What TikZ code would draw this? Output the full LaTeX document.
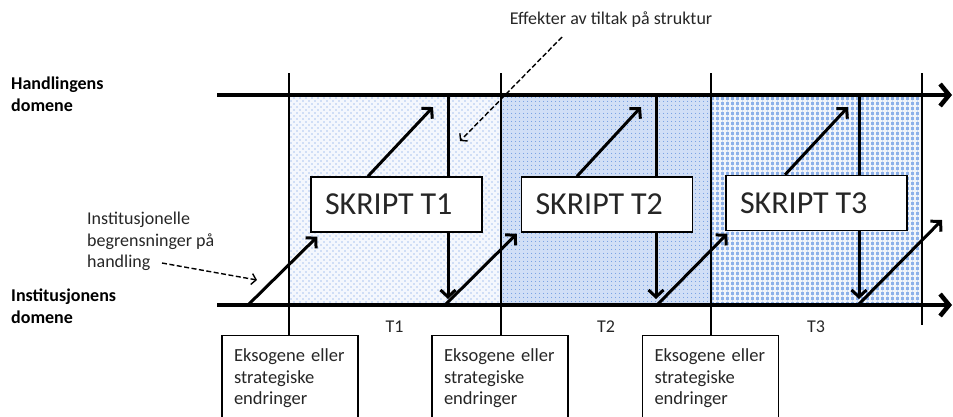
\documentclass[tikz,border=0pt]{standalone}
\usepackage{fontspec}
\setmainfont{Carlito}
\usetikzlibrary{arrows.meta,patterns.meta}
\definecolor{wordblue}{HTML}{4472C4}
\definecolor{dotblue}{HTML}{5B8EE0}
\definecolor{textgrey}{HTML}{262626}
\tikzset{
  axisline/.style={line width=4.5pt, -{Straight Barb[length=9pt,width=22pt]}},
  flow/.style={line width=3pt, -{Straight Barb[length=7pt,width=15pt]}},
  flowline/.style={line width=3pt},
  tickline/.style={line width=1.3pt},
  note/.style={line width=1.4pt, dash pattern=on 5pt off 2.5pt, -{Straight Barb[length=4.5pt,width=11pt]}},
  skript/.style={draw, line width=1.5pt, fill=white, text width=143pt, inner xsep=14pt,
    minimum height=55pt, align=left, text=textgrey, font=\fontsize{32}{36}\selectfont},
  change/.style={draw, line width=1.2pt, fill=white, anchor=north, text width=112pt,
    inner xsep=12pt, minimum height=86pt, align=left, text=textgrey, font=\fontsize{18.5}{21.5}\selectfont},
  lbl/.style={inner sep=0pt, align=left, text=textgrey, font=\fontsize{18}{21.5}\selectfont},
  domainlbl/.style={inner sep=0pt, align=left, anchor=west, font=\fontsize{18}{22}\selectfont\bfseries},
}
\begin{document}
\begin{tikzpicture}[x=1pt,y=-1pt]
\clip (0,0) rectangle (953,416);

% period shading
\fill[dotblue!7] (289,95) rectangle (501,305);
\fill[pattern={Dots[radius=0.6pt,distance=6pt]}, pattern color=dotblue] (289,95) rectangle (501,305);
\fill[pattern={Dots[radius=0.6pt,distance=6pt,xshift=3pt,yshift=3pt]}, pattern color=dotblue] (289,95) rectangle (501,305);
\fill[dotblue!28] (501,95) rectangle (711,305);
\fill[pattern={Dots[radius=0.6pt,distance=4pt]}, pattern color=dotblue] (501,95) rectangle (711,305);
\fill[dotblue!70] (711,95) rectangle (922,305);
\fill[pattern={Lines[distance=5pt,line width=1.3pt]}, pattern color=white!92!wordblue] (711,95) rectangle (922,305);
\fill[pattern={Lines[angle=90,distance=5pt,line width=1.3pt]}, pattern color=white!92!wordblue] (711,95) rectangle (922,305);

% boxes
\node[skript] (s1) at (396.5,204.5) {SKRIPT\hspace{-0.12em} T1};
\node[skript] (s2) at (607,204.5) {SKRIPT\hspace{-0.12em} T2};
\node[skript, text width=153pt] (s3) at (816.5,203) {SKRIPT\hspace{-0.12em} T3};

\node[change] (e1) at (290,335) {Eksogene eller\\strategiske\\endringer};
\node[change] (e2) at (500,335) {Eksogene eller\\strategiske\\endringer};
\node[change] (e3) at (710.5,335) {Eksogene eller\\strategiske\\endringer};

% period boundaries
\coordinate (v1) at (289,73);
\coordinate (v2) at (501,73);
\coordinate (v3) at (711,73);
\coordinate (v4) at (922,73);
\coordinate (v4b) at (922,325);
\draw[tickline] (v1) -- (v1 |- e1.north);
\draw[tickline] (v2) -- (v2 |- e2.north);
\draw[tickline] (v3) -- (v3 |- e3.north);
\draw[tickline] (v4) -- (v4b);

% domain axes
\coordinate (hs) at (217,95);
\coordinate (he) at (952,95);
\coordinate (is) at (217,305);
\coordinate (ie) at (952,305);
\draw[axisline] (hs) -- (he);
\draw[axisline] (is) -- (ie);

% effects of action on structure
\coordinate (d1) at (448,95);
\coordinate (d2) at (656,95);
\coordinate (d3) at (859,95);
\coordinate (d1b) at (448,299);
\coordinate (d2b) at (656,299);
\coordinate (d3b) at (859,299);
\draw[flowline] (d1) -- (d1 |- s1.north);
\draw[flow] (d1 |- s1.south) -- (d1b);
\draw[flowline] (d2) -- (d2 |- s2.north);
\draw[flow] (d2 |- s2.south) -- (d2b);
\draw[flowline] (d3) -- (d3 |- s3.north);
\draw[flow] (d3 |- s3.south) -- (d3b);

% constraints from the institution
\coordinate (a0) at (248,305);
\coordinate (a1) at (445,305);
\coordinate (a2) at (657,305);
\coordinate (a3) at (859,304);
\coordinate (a3t) at (942,220);
\draw[flow] (a0) -- ([xshift=7pt,yshift=-4pt]s1.south west);
\draw[flow] (a1) -- ([xshift=-4pt,yshift=-1pt]s2.south west);
\draw[flow] (a2) -- ([xshift=2pt,yshift=-2.5pt]s3.south west);
\draw[flow] (a3) -- (a3t);

% action
\coordinate (u1) at (433,107);
\coordinate (u2) at (641,107);
\coordinate (u3) at (848,107);
\draw[flow] ([xshift=-28.5pt]s1.north) -- (u1);
\draw[flow] ([xshift=-30pt]s2.north) -- (u2);
\draw[flow] ([xshift=-31.5pt]s3.north) -- (u3);

% labels
\node[domainlbl] (hd) at (11,94) {Handlingens\\domene};
\node[domainlbl] (id) at (11,306) {Institusjonens\\domene};
\node[lbl, anchor=west] (ib) at (87,241.5) {Institusjonelle\\begrensninger på\\handling};
\node[lbl] (eff) at (611,20) {Effekter av tiltak på struktur};
\node[lbl] (p1) at (394.5,327) {T1};
\node[lbl] (p2) at (606,327) {T2};
\node[lbl] (p3) at (816,327) {T3};

\coordinate (ibs) at (162,263);
\coordinate (ibe) at (257,280);
\draw[note] (ibs) -- (ibe);
\coordinate (efs) at (562,37);
\coordinate (efe) at (460,141);
\draw[note] (efs) -- (efe);
\end{tikzpicture}
\end{document}
